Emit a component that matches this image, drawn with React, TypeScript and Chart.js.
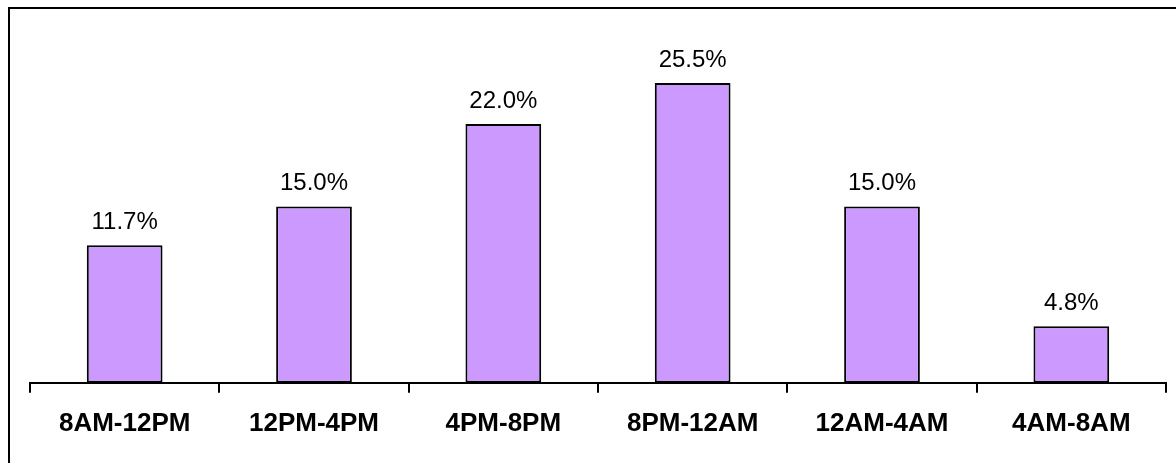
import React, { useEffect, useRef } from "react";
import { Chart, registerables } from "chart.js";

Chart.register(...registerables);

const categories = ["8AM-12PM", "12PM-4PM", "4PM-8PM", "8PM-12AM", "12AM-4AM", "4AM-8AM"];
const shares = [11.7, 15.0, 22.0, 25.5, 15.0, 4.8];

const valueLabels = {
  id: "valueLabels",
  afterDatasetsDraw(chart: any) {
    const ctx = chart.ctx;
    const meta = chart.getDatasetMeta(0);
    ctx.save();
    ctx.font = "24px Arial, 'Liberation Sans', sans-serif";
    ctx.fillStyle = "#000";
    ctx.textAlign = "center";
    ctx.textBaseline = "alphabetic";
    meta.data.forEach((bar: any, i: number) => {
      ctx.fillText(shares[i].toFixed(1) + "%", bar.x, bar.y - 16);
    });
    ctx.restore();
  },
};

export default function App() {
  const ref = useRef<HTMLCanvasElement>(null);
  useEffect(() => {
    if (!ref.current) return;
    const chart = new Chart(ref.current, {
      type: "bar",
      data: {
        labels: categories,
        datasets: [
          {
            data: shares,
            backgroundColor: "#CC99FF",
            borderColor: "#000000",
            borderWidth: 2,
            borderSkipped: false,
            barPercentage: 0.4,
            categoryPercentage: 1,
          },
        ],
      },
      options: {
        responsive: false,
        animation: false,
        devicePixelRatio: 1,
        layout: { padding: { left: 30, right: 10, top: 30, bottom: 9 } },
        plugins: { legend: { display: false }, tooltip: { enabled: false } },
        scales: {
          x: {
            grid: {
              offset: true,
              drawOnChartArea: false,
              drawTicks: true,
              tickLength: 10,
              color: "#000",
              lineWidth: 2,
            },
            border: { display: true, color: "#000", width: 2 },
            ticks: {
              color: "#000",
              padding: 15,
              font: { family: "Arial, 'Liberation Sans', sans-serif", size: 26, weight: "bold" },
            },
          },
          y: {
            display: false,
            min: 0,
            max: 30,
          },
        },
      },
      plugins: [valueLabels],
    });
    return () => chart.destroy();
  }, []);
  return (
    <>
      <div
        style={{
          position: "fixed",
          left: 8,
          top: 7,
          width: 2000,
          height: 2000,
          borderTop: "2px solid #000",
          borderLeft: "2px solid #000",
          pointerEvents: "none",
        }}
      />
      <canvas
        ref={ref}
        width={1176}
        height={463}
        style={{ position: "fixed", left: 0, top: 0, width: 1176, height: 463, display: "block" }}
      />
    </>
  );
}
